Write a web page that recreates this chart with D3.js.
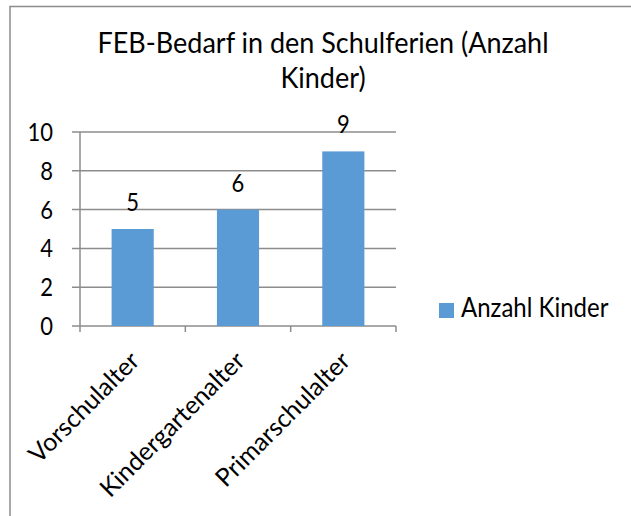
<!DOCTYPE html>
<html>
<head>
<meta charset="utf-8">
<script src="https://cdn.jsdelivr.net/npm/d3@7"></script>
<style>
  body { margin: 0; background: #fff; }
  svg text { font-family: Lato, 'Liberation Sans', sans-serif; fill: #000; }
</style>
</head>
<body>
<svg id="canvas" width="631" height="516"></svg>
<script>
let categories = ['Vorschulalter', 'Kindergartenalter', 'Primarschulalter']
let values = [5, 6, 9]
let yTicks = [0, 2, 4, 6, 8, 10]
let seriesName = 'Anzahl Kinder'
let titleLines = ['FEB-Bedarf in den Schulferien (Anzahl', 'Kinder)']

let canvas = d3.select('#canvas')

// frame
canvas.append('path')
  .attr('d', 'M10,516 V6.5 H631')
  .attr('fill', 'none')
  .attr('stroke', '#8c8c8c')
  .attr('stroke-width', 1.5)

let xScale = d3.scaleBand()
  .domain(categories)
  .range([80, 396])
  .paddingInner(0.6)
  .paddingOuter(0.3)

let yScale = d3.scaleLinear()
  .domain([0, 10])
  .range([326, 132])

// gridlines
canvas.selectAll('.grid')
  .data(yTicks)
  .enter()
  .append('line')
  .attr('x1', 72)
  .attr('x2', 396)
  .attr('y1', (d) => yScale(d))
  .attr('y2', (d) => yScale(d))
  .attr('stroke', '#8c8c8c')
  .attr('stroke-width', 1.5)

// y axis line
canvas.append('line')
  .attr('x1', 80).attr('x2', 80)
  .attr('y1', yScale(10)).attr('y2', yScale(0))
  .attr('stroke', '#8c8c8c')
  .attr('stroke-width', 1.5)

// x tick marks at band edges
let edges = categories.map((c) => xScale(c) - xScale.step() * xScale.paddingInner() / 2)
edges[0] = 80
edges.push(396)
canvas.selectAll('.xtick')
  .data(edges)
  .enter()
  .append('line')
  .attr('x1', (d) => d).attr('x2', (d) => d)
  .attr('y1', yScale(0)).attr('y2', yScale(0) + 6)
  .attr('stroke', '#8c8c8c')
  .attr('stroke-width', 1.5)

// text in the reference is a little taller than wide
let tall = (sel, x, y, s) => sel.attr('transform', 'translate(' + x + ',' + y + ') scale(1,' + s + ')')

// y labels
canvas.selectAll('.ylabel')
  .data(yTicks)
  .enter()
  .append('text')
  .each(function (d) { tall(d3.select(this), 53, yScale(d) + 9, 1.15) })
  .attr('text-anchor', 'end')
  .style('font-size', '22px')
  .text((d) => d)

// bars
canvas.selectAll('.bar')
  .data(values)
  .enter()
  .append('rect')
  .attr('x', (d, i) => xScale(categories[i]))
  .attr('y', (d) => yScale(d))
  .attr('width', xScale.bandwidth())
  .attr('height', (d) => yScale(0) - yScale(d))
  .attr('fill', '#5b9bd5')

// value labels
canvas.selectAll('.vlabel')
  .data(values)
  .enter()
  .append('text')
  .each(function (d, i) { tall(d3.select(this), xScale(categories[i]) + xScale.bandwidth() / 2, yScale(d) - 18, 1.15) })
  .attr('text-anchor', 'middle')
  .style('font-size', '22px')
  .text((d) => d)

// category labels
canvas.selectAll('.xlabel')
  .data(categories)
  .enter()
  .append('text')
  .attr('transform', (d) => 'translate(' + (xScale(d) + xScale.bandwidth() / 2 - 4) + ',' + 350 + ') rotate(-45)')
  .attr('text-anchor', 'end')
  .attr('dy', '0.7em')
  .style('font-size', '25px')
  .text((d) => d)

// title
canvas.selectAll('.title')
  .data(titleLines)
  .enter()
  .append('text')
  .each(function (d, i) { tall(d3.select(this), 323, 53 + i * 35, 1.05) })
  .attr('text-anchor', 'middle')
  .style('font-size', '27px')
  .text((d) => d)

// legend
canvas.append('rect')
  .attr('x', 439).attr('y', 303)
  .attr('width', 15).attr('height', 15)
  .attr('fill', '#5b9bd5')
canvas.append('text')
  .each(function () { tall(d3.select(this), 461, 317, 1.1) })
  .style('font-size', '24px')
  .text(seriesName)
</script>
</body>
</html>
